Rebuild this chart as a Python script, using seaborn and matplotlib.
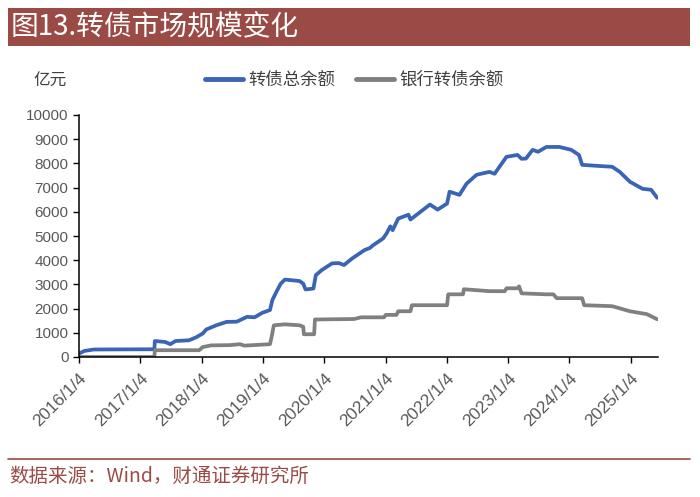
import numpy as np
import pandas as pd
import matplotlib
matplotlib.use("Agg")
import matplotlib.pyplot as plt
import seaborn as sns
from matplotlib.patches import Rectangle
from matplotlib.lines import Line2D

# 转债总余额 (亿元)
total_dates = ["2016-01-04", "2016-02-05", "2016-04-01", "2017-03-28", "2017-03-31",
               "2017-06-01", "2017-07-01", "2017-08-01", "2017-10-20", "2017-12-01",
               "2018-01-10", "2018-02-01", "2018-04-01", "2018-06-01", "2018-08-01",
               "2018-10-01", "2018-11-15", "2019-01-01", "2019-02-15", "2019-03-01",
               "2019-03-25", "2019-04-20", "2019-05-15", "2019-08-10", "2019-09-01",
               "2019-09-15", "2019-11-01", "2019-11-15", "2019-12-20", "2020-02-20",
               "2020-04-01", "2020-05-01", "2020-06-20", "2020-09-01", "2020-10-01",
               "2020-10-20", "2020-12-20", "2021-01-10", "2021-02-01", "2021-02-15",
               "2021-03-20", "2021-05-20", "2021-06-01", "2021-09-25", "2021-11-10",
               "2022-01-05", "2022-01-20", "2022-03-20", "2022-05-01", "2022-06-30",
               "2022-09-15", "2022-10-15", "2022-12-25", "2023-03-01", "2023-03-25",
               "2023-04-20", "2023-05-30", "2023-07-01", "2023-08-20", "2023-11-05",
               "2024-01-15", "2024-03-01", "2024-03-20", "2024-06-15", "2024-09-15",
               "2024-10-30", "2024-12-30", "2025-03-15", "2025-05-05", "2025-06-10"]
total_values = [140, 250, 310, 320, 660,
                620, 530, 660, 690, 810,
                970, 1140, 1310, 1450, 1460,
                1660, 1640, 1830, 1940, 2350,
                2690, 3030, 3200, 3140, 3030,
                2790, 2830, 3380, 3590, 3870,
                3880, 3800, 4080, 4420, 4500,
                4610, 4900, 5110, 5400, 5240,
                5720, 5880, 5680, 6300, 6090,
                6340, 6830, 6700, 7160, 7530,
                7650, 7570, 8270, 8350, 8190,
                8200, 8560, 8480, 8680, 8680,
                8560, 8350, 7940, 7900, 7860,
                7650, 7240, 6950, 6910, 6580]

# 银行转债余额 (亿元)
bank_dates = ["2016-01-04", "2017-03-28", "2017-03-31", "2017-12-20", "2018-01-10",
              "2018-03-01", "2018-06-20", "2018-08-20", "2018-09-15", "2019-02-15",
              "2019-02-25", "2019-03-10", "2019-05-15", "2019-08-10", "2019-09-01",
              "2019-09-05", "2019-11-05", "2019-11-10", "2020-07-01", "2020-08-10",
              "2020-12-25", "2021-01-05", "2021-03-10", "2021-03-20", "2021-06-01",
              "2021-06-10", "2022-01-05", "2022-01-12", "2022-04-10", "2022-04-15",
              "2022-09-15", "2022-12-15", "2022-12-25", "2023-03-01", "2023-03-10",
              "2023-03-25", "2023-08-20", "2023-10-01", "2023-10-20", "2024-03-20",
              "2024-04-01", "2024-09-15", "2024-12-30", "2025-04-10", "2025-06-10"]
bank_values = [0, 0, 280, 280, 410,
               480, 490, 530, 470, 530,
               840, 1310, 1350, 1310, 1250,
               940, 940, 1550, 1570, 1640,
               1640, 1740, 1740, 1890, 1890,
               2140, 2140, 2590, 2590, 2800,
               2720, 2720, 2840, 2840, 2920,
               2630, 2590, 2590, 2430, 2430,
               2140, 2100, 1890, 1770, 1560]

series_names = ["转债总余额", "银行转债余额"]
tick_dates = ["2016-01-04", "2017-01-04", "2018-01-04", "2019-01-04", "2020-01-04",
              "2021-01-04", "2022-01-04", "2023-01-04", "2024-01-04", "2025-01-04"]
tick_labels = ["2016/1/4", "2017/1/4", "2018/1/4", "2019/1/4", "2020/1/4",
               "2021/1/4", "2022/1/4", "2023/1/4", "2024/1/4", "2025/1/4"]
y_ticks = list(range(0, 10001, 1000))

df = pd.concat([
    pd.DataFrame({"date": pd.to_datetime(total_dates), "value": total_values, "series": series_names[0]}),
    pd.DataFrame({"date": pd.to_datetime(bank_dates), "value": bank_values, "series": series_names[1]}),
])

sns.set_style("ticks")
plt.rcParams["font.family"] = ["Liberation Sans", "Noto Sans CJK SC"]
cjk = "Noto Sans CJK SC"
red = "#9B4B45"
colors = {series_names[0]: "#3A65B5", series_names[1]: "#808080"}

fig = plt.figure(figsize=(7, 4.97), dpi=100)
ax = fig.add_axes([79 / 700, 1 - 357 / 497, 579 / 700, 242 / 497])

sns.lineplot(data=df, x="date", y="value", hue="series", palette=colors,
             linewidth=2.7, legend=False, ax=ax, estimator=None)

ax.set_xlim(pd.Timestamp("2016-01-04"), pd.Timestamp("2025-06-15"))
ax.set_ylim(0, 10000)
ax.set_yticks(y_ticks)
ax.set_xticks(pd.to_datetime(tick_dates))
ax.set_xticklabels(tick_labels, rotation=45, ha="right", rotation_mode="anchor")
ax.set_xlabel("")
ax.set_ylabel("")
ax.tick_params(axis="both", colors="black", labelcolor="#595959", labelsize=11,
               length=4, width=1)
ax.tick_params(axis="x", pad=6, labelsize=12.5)
sns.despine(ax=ax)
for s in ["left", "bottom"]:
    ax.spines[s].set_color("black")
    ax.spines[s].set_linewidth(1.1)

# header banner
fig.add_artist(Rectangle((8 / 700, 1 - 46 / 497), 682 / 700, 38 / 497,
                         transform=fig.transFigure, facecolor=red, edgecolor="none"))
fig.text(11 / 700, 1 - 27 / 497, "图13.转债市场规模变化", color="white",
         fontsize=20, family=[cjk], va="center", ha="left")

fig.text(33 / 700, 1 - 81 / 497, "亿元", color="#404040", fontsize=12,
         family=[cjk], va="center", ha="left")

handles = [Line2D([], [], color=colors[n], lw=3.5) for n in series_names]
leg = fig.legend(handles, series_names, loc="center", bbox_to_anchor=(354 / 700, 1 - 80 / 497),
                 ncol=2, frameon=False, handlelength=2.2, handletextpad=0.3,
                 columnspacing=1.2, prop={"family": cjk, "size": 12.5})
for t in leg.get_texts():
    t.set_color("#404040")

# footer
fig.add_artist(Line2D([8 / 700, 690 / 700], [1 - 459 / 497] * 2, color=red, lw=1.2,
                      transform=fig.transFigure))
fig.text(9 / 700, 1 - 476 / 497, "数据来源：Wind，财通证券研究所", color=red,
         fontsize=14, family=[cjk], va="center", ha="left")

fig.savefig("out.png", dpi=100)
